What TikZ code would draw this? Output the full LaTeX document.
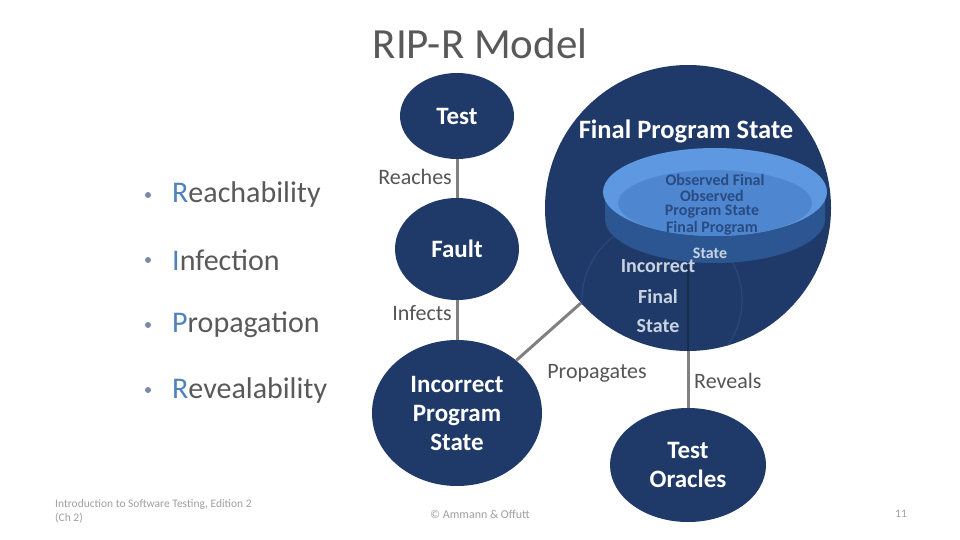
\documentclass[tikz,border=0pt]{standalone}
\usepackage{fontspec}
\setmainfont{Carlito}
\usetikzlibrary{shapes.geometric}
\definecolor{navy}{RGB}{31,58,104}
\definecolor{lightb}{RGB}{94,152,224}
\definecolor{midb}{RGB}{79,134,208}
\definecolor{sideb}{RGB}{44,86,146}
\definecolor{conn}{RGB}{128,128,128}
\definecolor{lbl}{RGB}{85,85,85}
\definecolor{ttl}{RGB}{89,89,89}
\definecolor{accent}{RGB}{79,129,189}
\definecolor{bul}{RGB}{120,140,170}
\definecolor{obstext}{RGB}{40,75,130}
\definecolor{faint}{RGB}{200,210,225}
\definecolor{ring}{RGB}{40,72,124}
\definecolor{foottext}{RGB}{160,160,160}
\begin{document}
\begin{tikzpicture}[x=1pt,y=-1pt,
  bubble/.style={ellipse,fill=navy,inner sep=0pt,text=white,align=center,
    font=\bfseries\fontsize{25}{29}\selectfont},
  link/.style={draw=conn,line width=3pt},
  lab/.style={text=lbl,inner sep=0pt,font=\fontsize{22}{26}\selectfont},
  item/.style={anchor=west,text=ttl,inner sep=0pt,font=\fontsize{30}{36}\selectfont},
  dot/.style={circle,fill=bul,inner sep=0pt,minimum size=6pt},
  obsline/.style={text=obstext,inner sep=0pt,font=\bfseries\fontsize{16}{19}\selectfont},
  wrongline/.style={text=faint,inner sep=0pt,font=\bfseries\fontsize{20}{24}\selectfont},
  foot/.style={text=foottext,inner sep=0pt,align=left,font=\fontsize{11.5}{14}\selectfont}]
\useasboundingbox (0,0) rectangle (960,540);
\fill[white] (0,0) rectangle (960,540);

% title
\node[text=ttl,font=\fontsize{43}{50}\selectfont] (title) at (480,44) {RIP-R Model};

% bullets
\node[dot] (d1) at (148,195) {};
\node[item] (b1) at (172,195) {\textcolor{accent}{R}eachability};
\node[dot] (d2) at (148,260) {};
\node[item] (b2) at (172,260) {\textcolor{accent}{I}nfection};
\node[dot] (d3) at (148,325) {};
\node[item] (b3) at (172,325) {\textcolor{accent}{P}ropagation};
\node[dot] (d4) at (148,390) {};
\node[item] (b4) at (172,390) {\textcolor{accent}{R}evealability};

% main bubbles
\node[bubble,minimum width=114pt,minimum height=86pt] (test) at (457,116) {Test};
\node[bubble,minimum width=124pt,minimum height=102pt] (fault) at (457,249) {Fault};
\node[bubble,minimum width=170pt,minimum height=146pt] (inc) at (457,413) {Incorrect\\Program\\State};
\node[bubble,minimum width=156pt,minimum height=114pt] (orc) at (688,465) {Test\\Oracles};
\node[circle,fill=navy,inner sep=0pt,minimum size=286pt] (fps) at (688,208) {};

% connectors
\draw[link] (test) -- (fault);
\draw[link] (fault) -- (inc);
\draw[link] (inc) -- (fps);
\draw[link] (fps.south) -- (orc.north);

% connector labels
\node[lab,anchor=east] (lreach) at (452,177) {Reaches};
\node[lab,anchor=east] (linf) at (452,313) {Infects};
\node[lab] (lprop) at (597,373) {Propagates};
\node[lab,anchor=west] (lrev) at (694,381) {Reveals};

% inside the final program state
\node[text=white,inner sep=0pt,font=\bfseries\fontsize{26.5}{30}\selectfont] (fpsl) at (686,131) {Final Program State};

\begin{scope}
  \clip (fps.center) circle (143);
  \draw[draw=ring,line width=1.2pt] (662,300) circle (80);
\end{scope}
\coordinate (rb) at (688,262);
\draw[draw=navy!75!black,line width=2pt] (rb) -- (fps.south);

% observed state disc
\fill[sideb] (715,219) ellipse [x radius=110, y radius=44];
\fill[sideb] (605,192) rectangle (825,219);
\node[ellipse,fill=lightb,inner sep=0pt,minimum width=224pt,minimum height=88pt] (obs) at (715,192) {};
\fill[midb] (715,203) ellipse [x radius=97, y radius=33];

\node[obsline] (o1) at (715,180) {Observed Final};
\node[obsline] (o2) at (712,196) {Observed};
\node[obsline] (o3) at (712,212) {Program State};
\node[obsline] (o4) at (712,228) {Final Program};
\node[wrongline,font=\bfseries\fontsize{16}{19}\selectfont] (o5) at (710,253) {State};

\node[wrongline] (w1) at (658,266) {Incorrect};
\node[wrongline] (w2) at (658,297) {Final};
\node[wrongline] (w3) at (658,326) {State};

% footer
\node[foot,anchor=north west] (fl) at (55,499) {Introduction to Software Testing, Edition 2\\(Ch 2)};
\node[foot,font=\fontsize{12}{14}\selectfont] (fc) at (480,514) {\textcopyright{} Ammann \& Offutt};
\node[foot] (fr) at (901,514) {11};
\end{tikzpicture}
\end{document}
